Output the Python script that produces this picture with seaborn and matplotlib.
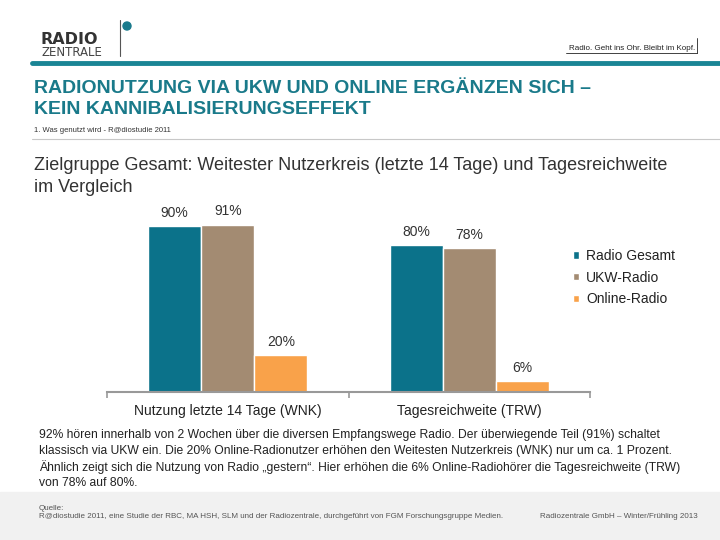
import numpy as np
import pandas as pd
import matplotlib.pyplot as plt
import matplotlib.patches as mpatches
from matplotlib.lines import Line2D
import seaborn as sns

categories = ["Nutzung letzte 14 Tage (WNK)", "Tagesreichweite (TRW)"]
series = ["Radio Gesamt", "UKW-Radio", "Online-Radio"]
radio_gesamt = [90, 80]
ukw_radio = [91, 78]
online_radio = [20, 6]
colors = ["#0B728A", "#A38B72", "#F9A24A"]

df = pd.DataFrame({
    "kategorie": categories * 3,
    "serie": np.repeat(series, 2),
    "wert": radio_gesamt + ukw_radio + online_radio,
})

sns.set_theme(style="white")
plt.rcParams["font.family"] = ["Liberation Sans", "DejaVu Sans"]

W, H = 720, 540
fig = plt.figure(figsize=(7.2, 5.4), dpi=100)


def px(x, y):
    return x / W, 1 - y / H


def hline(x0, x1, y, color, lw):
    fig.add_artist(Line2D([x0 / W, x1 / W], [1 - y / H, 1 - y / H], color=color, lw=lw,
                          transform=fig.transFigure))


def vline(x, y0, y1, color, lw):
    fig.add_artist(Line2D([x / W, x / W], [1 - y0 / H, 1 - y1 / H], color=color, lw=lw,
                          transform=fig.transFigure))


# header / logo
fig.text(*px(41, 44.5), "RADIO", fontsize=11.5, fontweight="bold", family="DejaVu Sans",
         color="#333333", va="baseline")
fig.text(*px(41, 56), "ZENTRALE", fontsize=8.5, family="DejaVu Sans", color="#444444",
         va="baseline")
vline(119.5, 20, 56, "#555555", 0.8)
fig.add_artist(mpatches.Ellipse(px(127, 26), 8 / W, 8 / H, color="#1A7A8C",
                                transform=fig.transFigure))

fig.text(*px(695, 48), "Radio. Geht ins Ohr. Bleibt im Kopf.", fontsize=5.8, color="#222222",
         ha="right", va="center")
hline(566, 697, 53, "#222222", 0.6)
vline(697, 38, 53, "#222222", 0.6)

hline(32, 720, 62.5, "#1A8595", 3.5)

fig.text(*px(34, 88.5), "RADIONUTZUNG VIA UKW UND ONLINE ERGÄNZEN SICH –", fontsize=14,
         fontweight="bold", color="#1A7A8A", va="center")
fig.text(*px(34, 109), "KEIN KANNIBALISIERUNGSEFFEKT", fontsize=14, fontweight="bold",
         color="#1A7A8A", va="center")
fig.text(*px(34, 131), "1. Was genutzt wird - R@diostudie 2011", fontsize=5.5, color="#333333",
         va="center")
hline(32, 720, 139, "#C8C8C8", 0.8)

fig.text(*px(34, 166), "Zielgruppe Gesamt: Weitester Nutzerkreis (letzte 14 Tage) und Tagesreichweite",
         fontsize=13, color="#333333", va="center")
fig.text(*px(34, 187), "im Vergleich", fontsize=13, color="#333333", va="center")

# chart
ax = fig.add_axes([107 / W, 148 / H, 483 / W, 184 / H])
sns.barplot(data=df, x="kategorie", y="wert", hue="serie", palette=colors, width=0.66,
            edgecolor="white", linewidth=1, saturation=1, ax=ax)
for cont in ax.containers:
    ax.bar_label(cont, labels=[f"{v:.0f}%" for v in cont.datavalues], padding=4.5,
                 fontsize=10, color="#333333")

ax.set_xlim(-0.5, 1.5)
ax.set_ylim(0, 100)
ax.set_xlabel("")
ax.set_ylabel("")
ax.set_yticks([])
for s in ["left", "top", "right"]:
    ax.spines[s].set_visible(False)
ax.spines["bottom"].set_color("#999999")
ax.spines["bottom"].set_linewidth(1.5)
ax.set_xticks([-0.5, 0.5, 1.5], minor=True)
ax.tick_params(axis="x", which="major", length=0, pad=9, labelsize=10, labelcolor="#222222")
ax.tick_params(axis="x", which="minor", length=4, width=1.2, color="#999999", direction="out",
               bottom=True)

leg = ax.legend(loc="upper left", bbox_to_anchor=px(573, 249), bbox_transform=fig.transFigure,
                frameon=False, fontsize=10, handlelength=0.45, handleheight=0.45,
                handletextpad=0.5, labelspacing=0.55, borderpad=0, borderaxespad=0)
for t in leg.get_texts():
    t.set_color("#222222")

# explanation
lines = [
    "92% hören innerhalb von 2 Wochen über die diversen Empfangswege Radio. Der überwiegende Teil (91%) schaltet",
    "klassisch via UKW ein. Die 20% Online-Radionutzer erhöhen den Weitesten Nutzerkreis (WNK) nur um ca. 1 Prozent.",
    "Ähnlich zeigt sich die Nutzung von Radio „gestern“. Hier erhöhen die 6% Online-Radiohörer die Tagesreichweite (TRW)",
    "von 78% auf 80%.",
]
for i, line in enumerate(lines):
    fig.text(*px(39, 435 + 16 * i), line, fontsize=8.7, color="#222222", va="center")

# footer
fig.add_artist(mpatches.Rectangle(px(0, 540), 1, 48 / H, color="#F1F1F1", transform=fig.transFigure,
                                  zorder=-1))
fig.text(*px(39, 508), "Quelle:", fontsize=5.75, color="#555555", va="center")
fig.text(*px(39, 517), "R@diostudie 2011, eine Studie der RBC, MA HSH, SLM und der Radiozentrale, "
         "durchgeführt von FGM Forschungsgruppe Medien.", fontsize=5.75, color="#555555", va="center")
fig.text(*px(698, 517), "Radiozentrale GmbH – Winter/Frühling 2013", fontsize=5.75, color="#555555",
         ha="right", va="center")

fig.savefig("out.png", dpi=100)
